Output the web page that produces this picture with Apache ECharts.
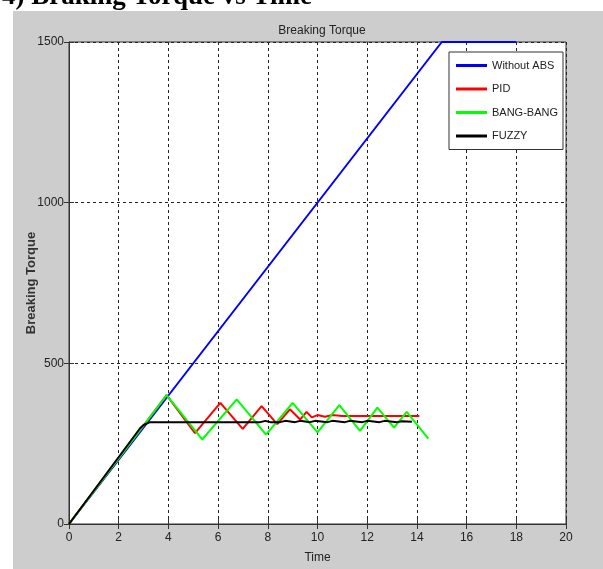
<!DOCTYPE html>
<html>
<head>
<meta charset="utf-8">
<script src="https://cdn.jsdelivr.net/npm/echarts@6/dist/echarts.min.js"></script>
<style>
  html, body { margin: 0; padding: 0; background: #fff; }
  #main { width: 603px; height: 569px; }
</style>
</head>
<body>
<div id="main"></div>
<script>
// data
var seriesNames = ['Without ABS', 'PID', 'BANG-BANG', 'FUZZY'];
var xTicks = [0, 2, 4, 6, 8, 10, 12, 14, 16, 18, 20];
var yTicks = [0, 500, 1000, 1500];

var noAbsT = [0, 15, 18];
var noAbsV = [0, 1500, 1500];

var pidT = [0, 3.93, 5.07, 6.09, 6.99, 7.75, 8.38, 8.89, 9.3, 9.56, 9.77, 10.0, 10.3, 10.6, 11.0, 14.1];
var pidV = [0, 401, 283, 377, 296, 367, 311, 357, 325, 349, 332, 339, 334, 339, 336, 336];

var bangT = [0, 3.93, 5.36, 6.75, 7.93, 9.0, 10.0, 10.88, 11.71, 12.41, 13.08, 13.59, 14.46];
var bangV = [0, 401, 263, 388, 278, 377, 285, 370, 290, 362, 300, 349, 266];

var fuzzyT = [0, 2.86, 3.0, 3.26, 7.7, 7.9, 8.1, 8.5, 8.7, 9.1, 9.3, 9.7, 9.9, 10.4, 10.6, 11.1, 11.3, 11.8, 12.0, 12.5, 12.7, 13.2, 13.4, 13.8];
var fuzzyV = [0, 298, 308, 317, 317, 321, 317, 317, 321, 317, 321, 317, 321, 317, 321, 317, 321, 317, 321, 317, 321, 317, 320, 318];

var colors = ['#0000ff', '#ff0000', '#00ff00', '#000000'];

function pairs(t, v) {
    var out = [];
    for (var i = 0; i < t.length; i++) out.push([t[i], v[i]]);
    return out;
}

var sans = "'Liberation Sans', Arial, sans-serif";

var chart = echarts.init(document.getElementById('main'));

var option = {
    backgroundColor: '#cdcdcd',
    animation: false,
    graphic: [
        { type: 'rect', z: 0, shape: { x: 0, y: 0, width: 603, height: 11 }, style: { fill: '#fff' } },
        { type: 'rect', z: 0, shape: { x: 0, y: 0, width: 13, height: 569 }, style: { fill: '#fff' } },
        {
            type: 'text', z: 1, left: 2, top: -16,
            style: { text: '4) Braking Torque vs Time', fill: '#000', font: "bold 27px 'Liberation Serif', 'Times New Roman', serif" }
        },
        // the gray figure starts here and hides the descenders
        { type: 'rect', z: 2, shape: { x: 13, y: 11, width: 590, height: 4 }, style: { fill: '#cdcdcd' } }
    ],
    title: {
        text: 'Breaking Torque',
        left: 317,
        top: 20,
        textAlign: 'center',
        textStyle: { fontFamily: sans, fontSize: 12, fontWeight: 'normal', color: '#222' }
    },
    legend: {
        data: seriesNames,
        orient: 'vertical',
        left: 449,
        top: 52,
        padding: [7, 5, 7, 7],
        itemGap: 10.5,
        itemWidth: 31,
        itemHeight: 3,
        icon: 'rect',
        backgroundColor: '#fff',
        borderColor: '#333',
        borderWidth: 1,
        borderRadius: 0,
        textStyle: { fontFamily: sans, fontSize: 11, lineHeight: 13, color: '#222' }
    },
    grid: {
        left: 69, right: 37, top: 42, bottom: 35,
        show: true, backgroundColor: '#fff', borderColor: '#333', borderWidth: 1
    },
    xAxis: [{
        type: 'value', min: 0, max: 20, interval: 2,
        name: 'Time', nameLocation: 'middle', nameGap: 28,
        nameTextStyle: { fontFamily: sans, fontSize: 12, color: '#222' },
        axisLine: { show: true, lineStyle: { color: '#333' } },
        axisTick: { show: true, inside: true, length: 5, lineStyle: { color: '#333' } },
        axisLabel: { fontFamily: sans, fontSize: 12, color: '#222', margin: 8,
            formatter: function (v) { return xTicks.indexOf(v) >= 0 ? String(v) : ''; } },
        splitLine: { show: true, lineStyle: { type: [3, 3], color: '#222', width: 1 } }
    }, {
        type: 'value', min: 0, max: 20, interval: 2, position: 'top',
        axisLine: { show: false },
        axisTick: { show: true, inside: true, length: 5, lineStyle: { color: '#333' } },
        axisLabel: { show: false },
        splitLine: { show: false }
    }],
    yAxis: [{
        type: 'value', min: 0, max: 1500, interval: 500,
        name: 'Breaking Torque', nameLocation: 'middle', nameGap: 31, nameRotate: 90,
        nameMoveOverlap: false,
        nameTextStyle: { fontFamily: sans, fontSize: 13, fontWeight: 'bold', color: '#333' },
        axisLine: { show: true, lineStyle: { color: '#333' } },
        axisTick: { show: true, inside: true, length: 5, lineStyle: { color: '#333' } },
        axisLabel: { fontFamily: sans, fontSize: 12, color: '#222', margin: 5,
            formatter: function (v) { return yTicks.indexOf(v) >= 0 ? String(v) : ''; } },
        splitLine: { show: true, lineStyle: { type: [3, 3], color: '#222', width: 1 } }
    }, {
        type: 'value', min: 0, max: 1500, interval: 500, position: 'right',
        axisLine: { show: false },
        axisTick: { show: true, inside: true, length: 5, lineStyle: { color: '#333' } },
        axisLabel: { show: false },
        splitLine: { show: false }
    }],
    series: [
        { name: seriesNames[0], type: 'line', data: pairs(noAbsT, noAbsV), symbol: 'none',
          itemStyle: { color: colors[0] }, lineStyle: { color: colors[0], width: 2 } },
        { name: seriesNames[1], type: 'line', data: pairs(pidT, pidV), symbol: 'none',
          itemStyle: { color: colors[1] }, lineStyle: { color: colors[1], width: 2 } },
        { name: seriesNames[2], type: 'line', data: pairs(bangT, bangV), symbol: 'none',
          itemStyle: { color: colors[2] }, lineStyle: { color: colors[2], width: 2 } },
        { name: seriesNames[3], type: 'line', data: pairs(fuzzyT, fuzzyV), symbol: 'none',
          itemStyle: { color: colors[3] }, lineStyle: { color: colors[3], width: 2 } }
    ]
};

chart.setOption(option);
</script>
</body>
</html>
